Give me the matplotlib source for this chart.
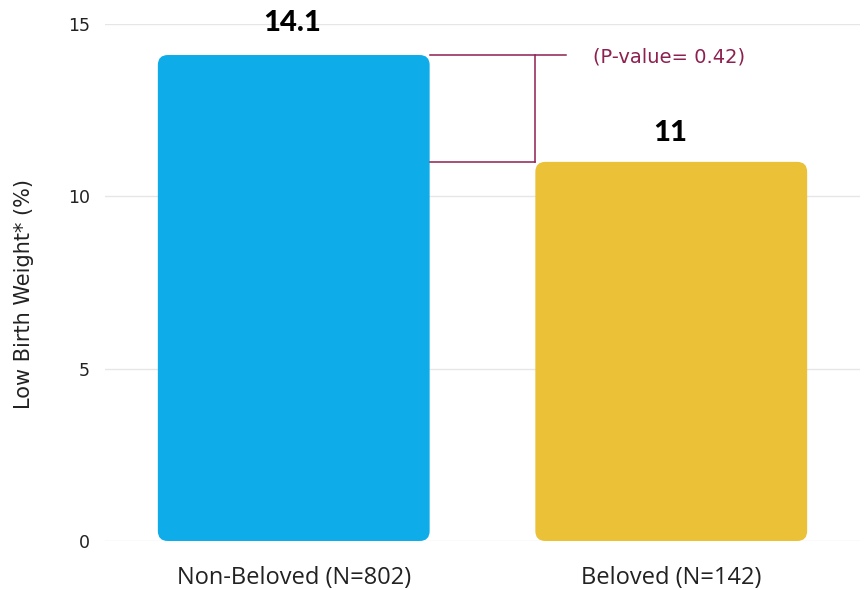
import matplotlib
matplotlib.use("Agg")
import matplotlib.pyplot as plt
from matplotlib.patches import FancyBboxPatch

categories = ["Non-Beloved (N=802)", "Beloved (N=142)"]
values = [14.1, 11]
value_labels = ["14.1", "11"]
colors = ["#0EACE9", "#EAC137"]
p_text = "(P-value= 0.42)"
yticks = [0, 5, 10, 15]

plt.rcParams["font.family"] = ["DejaVu Sans"]

fig = plt.figure(figsize=(8.64, 5.9), dpi=100)
ax = fig.add_axes([105 / 864, 1 - 541 / 590, 755 / 864, 517 / 590])
ax.set_xlim(-0.5, 1.5)
ax.set_ylim(0, 15)

width = 0.72
# data-units per pixel in x and y, used to keep the corner rounding circular
x_per_px = 2.0 / 755
y_per_px = 15.0 / 517
radius_px = 10
label_offsets = [23, 21]

for i, (v, c) in enumerate(zip(values, colors)):
    patch = FancyBboxPatch(
        (i - width / 2, 0), width, v,
        boxstyle=f"round,pad=0,rounding_size={radius_px * x_per_px}",
        mutation_aspect=y_per_px / x_per_px,
        facecolor=c, edgecolor="none", zorder=2,
    )
    ax.add_patch(patch)
    ax.annotate(value_labels[i], (i, v), xytext=(-1, label_offsets[i]),
                textcoords="offset points",
                ha="center", va="center", fontsize=21, fontweight="black",
                family=["Lato", "DejaVu Sans"],
                color="black", annotation_clip=False, zorder=3)

# significance bracket between the two bars
bc = "#8E2050"
x_left = 0 + width / 2
x_right = 1 - width / 2
ax.plot([x_left, 0.722], [values[0], values[0]], color=bc, lw=1.1, zorder=3, clip_on=False)
ax.plot([x_right, x_right], [values[0], values[1]], color=bc, lw=1.1, zorder=3, clip_on=False)
ax.plot([x_left, x_right], [values[1], values[1]], color=bc, lw=1.1, zorder=3, clip_on=False)
ax.text(0.793, values[0] - 0.05, p_text, ha="left", va="center", fontsize=14,
        color=bc)

ax.set_xticks(range(len(categories)))
ax.set_xticklabels(categories, fontsize=17, color="#222222",
                   family=["Open Sans", "DejaVu Sans"])
ax.set_yticks(yticks)
ax.set_yticklabels([str(t) for t in yticks], fontsize=12.5, color="#222222")
ax.tick_params(axis="both", length=0)
ax.tick_params(axis="x", pad=18)
ax.tick_params(axis="y", pad=11)
ax.set_ylabel("Low Birth Weight* (%)", fontsize=15, color="#222222")
ax.yaxis.set_label_coords(-0.094, 0.478)

ax.grid(axis="y", color="#e6e6e6", lw=1, zorder=0)
ax.set_axisbelow(True)
for s in ax.spines.values():
    s.set_visible(False)

fig.savefig("out.png", dpi=100, facecolor="white")
